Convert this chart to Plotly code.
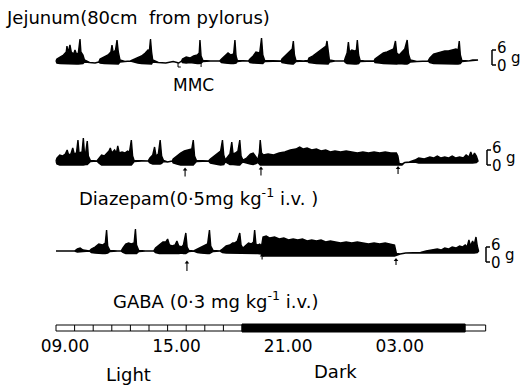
import plotly.graph_objects as go

# ---------------- data (hours after 09.00, force in g) ----------------
# Jejunum control recording: time, upper envelope, lower envelope
jej_t = [0.0, 0.05, 0.22, 0.4, 0.55, 0.59, 0.65, 0.75, 0.82, 0.95, 1.02, 1.1, 1.2, 1.29, 1.34, 1.45, 1.53,
         1.8, 2.1, 2.3,
         2.37, 2.6, 2.8, 2.95, 3.01, 3.08, 3.2, 3.28, 3.35, 3.44, 3.7, 4.0,
         4.14, 4.4, 4.6, 4.8, 4.95, 5.02, 5.08, 5.14, 5.2, 5.5, 5.9, 6.3, 6.6, 6.75,
         6.8, 7.0, 7.2, 7.4, 7.6, 7.7, 7.74, 7.8, 7.9, 8.3, 8.8,
         8.9, 9.1, 9.25, 9.4, 9.55, 9.62, 9.68, 9.75, 10.0, 10.35,
         10.43, 10.6, 10.75, 10.95, 11.05, 11.12, 11.22, 11.6, 12.1,
         12.15, 12.3, 12.45, 12.6, 12.7, 12.76, 12.82, 12.9, 13.3, 13.55,
         13.6, 13.8, 14.0, 14.2, 14.4, 14.52, 14.57, 14.63, 14.7, 15.0, 15.5,
         15.55, 15.65, 15.72, 15.78, 15.9, 16.05, 16.15, 16.2, 16.27, 16.35, 16.6, 17.1,
         17.15, 17.4, 17.6, 17.8, 18.0, 18.15, 18.25, 18.32, 18.45, 18.6, 18.75, 18.88, 18.95, 19.05, 19.4, 20.0,
         20.1, 20.3, 20.5, 20.7, 20.9, 21.1, 21.3, 21.5, 21.62, 21.68, 21.74, 21.82, 22.2, 22.4, 22.69]
jej_hi = [0.0, 0.8, 1.6, 2.4, 3.6, 6.0, 3.2, 6.4, 3.6, 2.8, 4.4, 2.8, 3.2, 8.8, 3.6, 2.4, 0.4,
          -0.6, -0.8, -0.4,
          0.8, 1.6, 2.4, 3.6, 6.4, 3.2, 4.4, 8.4, 3.6, 0.4, -0.2, 0.0,
          0.4, 1.2, 2.0, 3.2, 4.4, 4.0, 8.8, 3.6, 0.4, -0.6, -0.8, -0.2, -0.8, 0.0,
          0.8, 1.6, 1.2, 2.0, 2.4, 3.2, 8.4, 2.0, 0.2, 0.0, 0.0,
          0.8, 2.0, 3.2, 2.4, 2.8, 8.4, 2.0, 0.2, 0.0, 0.0,
          0.8, 2.0, 3.6, 3.2, 9.2, 2.4, 0.2, 0.0, 0.0,
          0.8, 2.0, 3.2, 4.4, 4.8, 8.0, 2.4, 0.2, 0.0, 0.2,
          1.2, 2.0, 3.2, 4.4, 5.6, 6.0, 8.0, 4.0, 0.4, 0.0, 0.0,
          1.2, 3.2, 7.6, 3.6, 4.4, 4.0, 4.4, 8.4, 2.4, 0.2, 0.0, 0.0,
          0.8, 2.0, 3.2, 3.6, 4.4, 4.8, 8.0, 3.2, 2.4, 3.6, 4.8, 8.4, 2.8, 0.4, -0.2, 0.0,
          1.2, 2.8, 3.2, 3.6, 4.0, 4.0, 4.4, 4.8, 4.4, 8.0, 2.4, 0.2, 0.0, 0.4, 0.4]
jej_lo = [0.0, -0.8, -1.0, -1.2, -1.2, -1.2, -1.2, -1.2, -1.2, -1.2, -1.2, -1.2, -1.2, -1.2, -1.2, -1.0, -0.4,
          -0.6, -0.8, -0.4,
          -0.8, -1.0, -1.0, -1.2, -1.2, -1.2, -1.2, -1.2, -1.2, -0.4, -0.2, 0.0,
          -0.4, -0.8, -1.0, -1.2, -1.2, -1.2, -1.2, -1.2, -0.4, -0.6, -0.8, -0.2, -0.8, 0.0,
          -0.6, -0.8, -0.6, -0.8, -1.0, -1.0, -1.0, -0.8, -0.2, 0.0, 0.0,
          -0.6, -0.8, -1.0, -1.0, -1.0, -1.0, -0.8, -0.2, 0.0, 0.0,
          -0.6, -0.8, -1.0, -1.0, -1.0, -1.0, -0.2, 0.0, 0.0,
          -0.6, -0.8, -1.0, -1.2, -1.2, -1.2, -1.0, -0.2, 0.0, -0.2,
          -0.6, -0.8, -1.0, -1.2, -1.2, -1.2, -1.2, -1.2, -0.4, 0.0, 0.0,
          -0.6, -1.0, -1.0, -1.0, -1.2, -1.2, -1.2, -1.2, -1.0, -0.2, 0.0, 0.0,
          -0.6, -0.8, -1.0, -1.2, -1.2, -1.2, -1.2, -1.2, -1.0, -1.0, -1.2, -1.2, -1.0, -0.4, -0.2, 0.0,
          -0.6, -1.0, -1.2, -1.2, -1.2, -1.2, -1.2, -1.2, -1.2, -1.2, -1.0, -0.2, 0.0, 0.2, 0.4]

# Diazepam recording
dzp_t = [0.0, 0.05, 0.2, 0.35, 0.5, 0.6, 0.68, 0.8, 0.9, 0.98, 1.1, 1.18, 1.24, 1.4, 1.47, 1.53, 1.6, 1.68, 1.74, 1.85, 2.2,
         2.3, 2.45, 2.6, 2.75, 2.85, 2.92, 3.0, 3.15, 3.25, 3.32, 3.4, 3.55, 3.7, 3.85, 3.95, 4.05, 4.12, 4.2, 4.6, 4.95,
         5.05, 5.2, 5.3, 5.38, 5.5, 5.6, 5.68, 5.78, 6.0, 6.25,
         6.3, 6.5, 6.7, 6.9, 7.1, 7.3, 7.38, 7.45, 7.55, 7.9, 8.2,
         8.3, 8.5, 8.7, 8.85, 8.95, 9.02, 9.1,
         9.2, 9.35, 9.45, 9.52, 9.65, 9.78, 9.88, 9.95, 10.05,
         10.25, 10.45, 10.6, 10.75, 10.85, 10.93, 10.98, 11.05,
         11.15, 11.4, 11.7, 12.0, 12.3, 12.6, 12.9, 13.1, 13.3, 13.5, 13.75, 14.0, 14.25, 14.5, 14.75, 15.0,
         15.3, 15.6, 15.9, 16.2, 16.5, 16.8, 17.1, 17.4, 17.7, 18.0, 18.3, 18.38, 18.45, 18.6, 18.75, 19.0,
         19.3, 19.5, 19.8, 20.1, 20.3, 20.5, 20.7, 20.9, 21.1, 21.3, 21.5, 21.7, 21.9, 22.05, 22.2, 22.3, 22.4,
         22.5, 22.6, 22.69]
dzp_hi = [0.0, 1.2, 2.4, 2.0, 2.8, 4.4, 2.4, 2.8, 5.2, 2.8, 3.2, 8.4, 3.2, 3.6, 9.2, 3.2, 3.6, 8.0, 2.0, 0.2, 0.0,
          0.8, 2.4, 2.0, 3.2, 4.0, 5.2, 3.2, 4.4, 3.2, 6.0, 3.2, 3.6, 3.2, 4.0, 3.6, 8.4, 2.0, 0.2, 0.0, 0.0,
          1.2, 2.4, 5.6, 2.0, 2.8, 8.4, 2.0, 0.2, -0.4, 0.0,
          0.8, 2.0, 3.2, 4.0, 4.4, 4.8, 8.4, 2.0, 0.2, 0.0, 0.0,
          0.8, 2.0, 3.2, 4.0, 8.4, 2.4, 0.4,
          1.2, 2.8, 7.6, 2.8, 3.2, 4.0, 8.4, 2.0, 0.4,
          1.2, 2.8, 3.2, 1.6, 0.4, 3.2, 8.4, 3.2,
          2.4, 2.8, 2.4, 3.2, 3.6, 4.4, 4.8, 5.6, 4.8, 5.2, 4.4, 4.8, 4.0, 4.4, 3.6, 4.0,
          3.6, 4.0, 3.6, 3.2, 3.6, 3.2, 3.6, 3.2, 3.6, 3.2, 3.2, 2.0, -1.0, -1.2, -0.6, -0.4,
          0.4, 1.2, 0.8, 1.6, 1.2, 2.0, 1.2, 1.6, 1.2, 2.0, 1.2, 1.6, 1.2, 2.4, 1.6, 3.6, 1.6,
          3.2, 2.0, 0.4]
dzp_lo = [0.0, -1.2, -1.6, -1.6, -1.6, -1.6, -1.6, -1.6, -1.6, -1.6, -1.6, -1.6, -1.6, -1.6, -1.6, -1.6, -1.4, -1.4, -1.0, -0.2, 0.0,
          -0.8, -1.6, -1.6, -1.6, -1.6, -1.6, -1.6, -1.6, -1.6, -1.6, -1.6, -1.6, -1.6, -1.6, -1.6, -1.6, -1.0, -0.2, 0.0, 0.0,
          -0.8, -1.2, -1.2, -1.2, -1.2, -1.2, -1.0, -0.2, -0.4, 0.0,
          -0.8, -1.2, -1.6, -1.6, -1.6, -1.6, -1.6, -1.0, -0.2, 0.0, 0.0,
          -0.8, -1.2, -1.4, -1.6, -1.6, -1.4, -0.4,
          -0.8, -1.4, -1.4, -1.4, -1.4, -1.6, -1.6, -1.0, -0.4,
          -0.8, -1.2, -1.4, -1.0, -0.6, -1.2, -1.6, -1.6,
          -1.6, -1.6, -1.6, -1.6, -1.6, -1.6, -1.6, -1.6, -1.6, -1.6, -1.6, -1.6, -1.6, -1.6, -1.6, -1.6,
          -1.6, -1.6, -1.6, -1.6, -1.6, -1.6, -1.6, -1.6, -1.6, -1.6, -1.6, -1.6, -1.8, -1.6, -0.6, -0.4,
          -0.4, -0.8, -0.8, -0.8, -0.8, -0.8, -0.8, -0.8, -0.8, -0.8, -0.8, -0.8, -0.8, -0.8, -0.8, -0.8, -0.8,
          -0.8, -0.6, 0.0]

# GABA recording
gab_t = [0.0, 0.05, 1.0, 1.15, 1.3, 1.45, 1.8,
         1.9, 2.1, 2.3, 2.5, 2.65, 2.72, 2.78, 2.9, 3.3, 3.5,
         3.6, 3.75, 3.9, 4.05, 4.2, 4.27, 4.33, 4.45, 4.8, 5.25,
         5.35, 5.55, 5.75, 5.9, 6.0, 6.1, 6.25, 6.4, 6.5, 6.6, 6.75, 6.85, 6.98, 7.05, 7.15, 7.4,
         7.6, 7.8, 8.0, 8.15, 8.25, 8.32, 8.45, 8.8,
         8.95, 9.15, 9.35, 9.5, 9.6, 9.75, 9.88, 9.95, 10.05, 10.2, 10.35, 10.5, 10.62, 10.68, 10.75, 10.85, 10.95, 11.05,
         11.13, 11.3, 11.5, 11.75, 12.0, 12.25, 12.5, 12.75, 13.0, 13.25, 13.5, 13.75, 14.0, 14.25, 14.5, 14.75,
         15.0, 15.3, 15.6, 15.9, 16.2, 16.5, 16.8, 17.1, 17.4, 17.7, 18.0, 18.2, 18.3, 18.5, 18.8, 19.2, 19.6,
         19.9, 20.2, 20.5, 20.7, 20.9, 21.1, 21.3, 21.5, 21.7, 21.85, 22.0, 22.1, 22.2, 22.28, 22.4, 22.48,
         22.58, 22.65, 22.72]
gab_hi = [0.0, 0.0, 0.0, 0.8, 1.2, 0.4, 0.0,
          0.8, 1.6, 2.8, 2.4, 3.2, 8.4, 2.0, 0.2, 0.0, 0.0,
          1.2, 2.8, 3.2, 2.8, 3.2, 8.8, 2.4, 0.2, 0.0, 0.0,
          1.2, 2.4, 3.6, 3.6, 4.8, 2.4, 2.0, 2.4, 4.0, 2.0, 1.6, 2.4, 7.2, 1.6, 0.2, 0.0,
          0.8, 1.6, 2.4, 2.8, 8.4, 2.0, 0.2, 0.0,
          0.8, 2.0, 2.4, 3.2, 3.2, 4.0, 7.2, 2.4, 1.2, 2.4, 3.2, 2.8, 3.6, 8.4, 2.8, 2.4, 2.8, 2.0,
          5.6, 6.0, 5.2, 5.6, 4.8, 5.2, 4.4, 4.8, 4.4, 4.8, 4.0, 4.4, 4.0, 4.4, 3.6, 4.0,
          3.6, 3.2, 3.6, 3.2, 3.6, 3.2, 2.8, 3.2, 2.8, 3.2, 2.8, 2.4, -1.0, -1.2, -0.8, -0.8, -0.6,
          0.0, 0.4, 0.8, 0.4, 1.2, 0.8, 1.6, 1.2, 2.0, 1.6, 2.4, 1.6, 4.4, 2.0, 4.0, 2.4,
          5.6, 2.0, 0.4]
gab_lo = [0.0, 0.0, 0.0, -0.4, -0.4, -0.2, 0.0,
          -0.6, -0.8, -1.0, -1.0, -1.0, -1.0, -0.8, -0.2, 0.0, 0.0,
          -0.6, -1.0, -1.0, -1.0, -1.0, -1.0, -1.0, -0.2, 0.0, 0.0,
          -0.6, -1.0, -1.0, -1.0, -1.0, -1.0, -1.0, -1.0, -1.0, -1.0, -0.8, -1.0, -1.0, -0.8, -0.2, 0.0,
          -0.6, -0.8, -1.0, -1.0, -1.0, -0.8, -0.2, 0.0,
          -0.6, -0.8, -1.0, -1.0, -1.0, -1.0, -1.0, -1.0, -1.0, -1.0, -1.0, -1.0, -1.0, -1.0, -1.0, -1.0, -1.0, -1.2,
          -2.0, -2.0, -2.0, -2.0, -2.0, -2.0, -2.0, -2.0, -2.0, -2.0, -2.0, -2.0, -2.0, -2.0, -2.0, -2.0,
          -2.0, -2.0, -2.0, -2.0, -2.0, -2.0, -2.0, -2.0, -2.0, -2.0, -2.0, -2.0, -1.6, -1.2, -0.8, -0.8, -0.6,
          -0.6, -0.6, -0.8, -0.8, -0.8, -0.8, -0.8, -0.8, -0.8, -0.8, -0.8, -0.8, -0.8, -0.8, -0.8, -0.8,
          -0.8, -0.6, 0.0]

# injection markers (hours after 09.00)
dzp_inject = [6.94, 11.02, 18.39]
gab_inject = [7.04, 11.08, 18.28]
mmc_marks = [6.56, 7.8]

# light / dark bar and clock labels
clock_hours = [0, 6, 12, 18]
clock_labels = ["09.00", "15.00", "21.00", "03.00"]
dark_on, dark_off, bar_end = 10.0, 22.0, 23.1
scale_g = 6

# ---------------- layout geometry ----------------
W, H = 523, 387
PX_PER_H, X0_PX = 18.6, 56
PX_PER_G = 2.5
YMIN, YMAX = -8, 12
baselines_px = [61, 161, 251]


def py(p):
    return 1 - p / H


def px(p):
    return p / W


def ydomain(b):
    return [py(b - YMIN * PX_PER_G), py(b - YMAX * PX_PER_G)]


FONT = "DejaVu Sans"
fig = go.Figure()

records = [(jej_t, jej_hi, jej_lo, "y"), (dzp_t, dzp_hi, dzp_lo, "y2"), (gab_t, gab_hi, gab_lo, "y3")]
for t, hi, lo, ya in records:
    fig.add_trace(go.Scatter(
        x=list(t) + list(t)[::-1], y=list(hi) + list(lo)[::-1],
        mode="lines", fill="toself", fillcolor="black",
        line=dict(color="black", width=1.4), yaxis=ya, hoverinfo="skip", showlegend=False))

shapes, annos = [], []

# injection arrows: shaft as shape, head as marker
arrow_sets = [(dzp_inject, [-3.4, -3.0, -2.8], [7, 7, 6], "y2"),
              (gab_inject, [-4.6, -1.8, -3.6], [9, 4, 5], "y3")]
for times, tips, lens, ya in arrow_sets:
    for m, tip, ln in zip(times, tips, lens):
        shapes.append(dict(type="line", xref="x", yref=ya, x0=m, x1=m, y0=tip, y1=tip - ln / PX_PER_G,
                           line=dict(color="black", width=1.1)))
    fig.add_trace(go.Scatter(x=times, y=tips, mode="markers", yaxis=ya, hoverinfo="skip", showlegend=False,
                             marker=dict(symbol="triangle-up", size=4, color="black")))

# scale brackets [6 0 g  (x pixel of bracket, offset of its foot in g)
bracket_px = [492, 487, 486]
bracket_foot = [-1.6, -1.6, -4.4]
for k, ya in enumerate(["y", "y2", "y3"]):
    xl, y0 = bracket_px[k], bracket_foot[k]
    y1 = y0 + scale_g
    shapes.append(dict(type="line", xref="paper", yref=ya, x0=px(xl), x1=px(xl), y0=y0, y1=y1,
                       line=dict(color="black", width=1.5)))
    for yy in (y0, y1):
        shapes.append(dict(type="line", xref="paper", yref=ya, x0=px(xl), x1=px(xl + 4), y0=yy, y1=yy,
                           line=dict(color="black", width=1.5)))
    f = dict(size=15, family=FONT, color="black")
    annos.append(dict(text=str(scale_g), x=px(xl + 10), y=y1, xref="paper", yref=ya, showarrow=False,
                      xanchor="center", yanchor="middle", yshift=2, font=f))
    annos.append(dict(text="0", x=px(xl + 10), y=y0, xref="paper", yref=ya, showarrow=False,
                      xanchor="center", yanchor="middle", yshift=-1, font=f))
    annos.append(dict(text="g", x=px(xl + 17), y=(y0 + y1) / 2, xref="paper", yref=ya, showarrow=False,
                      xanchor="left", yanchor="middle", font=f))

# MMC interval marks
for m in mmc_marks:
    shapes.append(dict(type="line", xref="x", yref="y", x0=m, x1=m, y0=-0.8, y1=-2.4,
                       line=dict(color="black", width=1)))
shapes.append(dict(type="line", xref="x", yref="y", x0=mmc_marks[0], x1=mmc_marks[0] + 0.15, y0=-2.4, y1=-2.4,
                   line=dict(color="black", width=1)))

# light/dark bar
bar_y0, bar_y1 = py(331), py(325)
shapes.append(dict(type="rect", xref="x", yref="paper", x0=0, x1=dark_on, y0=bar_y0, y1=bar_y1,
                   line=dict(color="black", width=1), fillcolor="white"))
for hh in range(1, int(dark_on)):
    shapes.append(dict(type="line", xref="x", yref="paper", x0=hh, x1=hh, y0=bar_y0, y1=bar_y1,
                       line=dict(color="black", width=1)))
shapes.append(dict(type="rect", xref="x", yref="paper", x0=dark_on, x1=dark_off, y0=py(332), y1=py(324),
                   line=dict(color="black", width=1), fillcolor="black"))
shapes.append(dict(type="rect", xref="x", yref="paper", x0=dark_off, x1=bar_end, y0=bar_y0, y1=bar_y1,
                   line=dict(color="black", width=1), fillcolor="white"))


def label(text, x, y, size, xanchor="left"):
    return dict(text=text, x=px(x), y=py(y), xanchor=xanchor, yanchor="middle", showarrow=False,
                xref="paper", yref="paper", font=dict(size=size, family=FONT, color="black"))


annos += [
    label("Jejunum(80cm  from pylorus)", 4, 17, 18),
    label("MMC", 193, 85, 17, "center"),
    label("Diazepam(0·5mg kg<sup>-1</sup> i.v. )", 77, 197, 18),
    label("GABA (0·3 mg kg<sup>-1</sup> i.v.)", 111, 300, 18),
    label("Light", 128, 374, 18, "center"),
    label("Dark", 335, 371, 18, "center"),
]

ax_common = dict(visible=False, range=[YMIN, YMAX], fixedrange=True)
fig.update_layout(
    width=W, height=H, margin=dict(l=0, r=0, t=0, b=0),
    paper_bgcolor="white", plot_bgcolor="white",
    xaxis=dict(range=[(0 - X0_PX) / PX_PER_H, (W - X0_PX) / PX_PER_H], anchor="free", position=py(334),
               tickvals=clock_hours, ticktext=clock_labels, ticks="", showgrid=False, zeroline=False,
               showline=False, ticklabelshift=9, fixedrange=True,
               tickfont=dict(size=17, family=FONT, color="black")),
    yaxis=dict(domain=ydomain(baselines_px[0]), **ax_common),
    yaxis2=dict(domain=ydomain(baselines_px[1]), **ax_common),
    yaxis3=dict(domain=ydomain(baselines_px[2]), **ax_common),
    shapes=shapes, annotations=annos,
)

fig.write_html("out.html", config={"displayModeBar": False, "staticPlot": True},
               post_script="document.body.style.margin='0';document.body.style.overflow='hidden';")
